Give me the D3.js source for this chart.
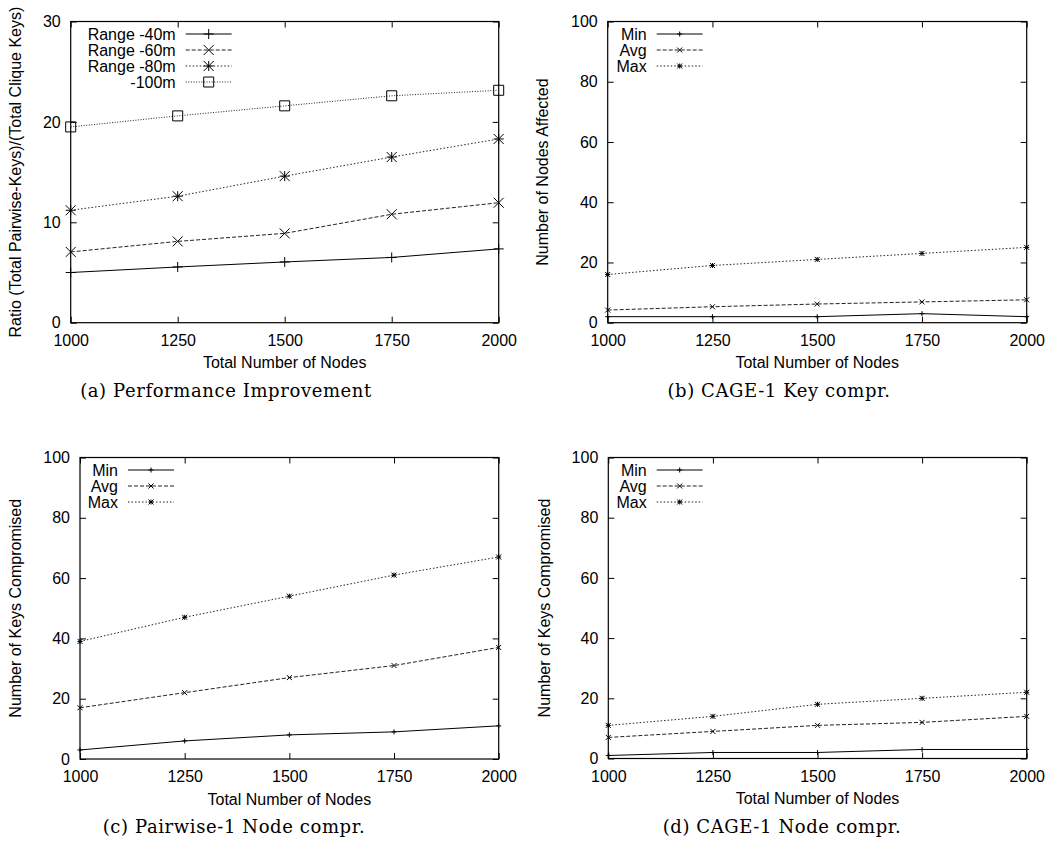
<!DOCTYPE html>
<html>
<head>
<meta charset="utf-8">
<script src="https://cdn.jsdelivr.net/npm/d3@7"></script>
<style>
  body { margin: 0; background: #fff; }
  svg { display: block; }
</style>
</head>
<body>
<div id="chart"></div>
<script>
// x values shared by every panel
const nodes = [1000, 1250, 1500, 1750, 2000];

// (a) ratio pairwise keys / clique keys
const rangeNames = ["Range -40m", "Range -60m", "Range -80m", "-100m"];
const range40 = [5.0, 5.55, 6.05, 6.5, 7.35];
const range60 = [7.05, 8.1, 8.9, 10.8, 11.95];
const range80 = [11.2, 12.6, 14.6, 16.5, 18.3];
const range100 = [19.5, 20.6, 21.6, 22.6, 23.15];

// (b)-(d) min / avg / max
const statNames = ["Min", "Avg", "Max"];
const cageKeyMin = [2, 2, 2, 3, 2];
const cageKeyAvg = [4.2, 5.3, 6.2, 6.9, 7.6];
const cageKeyMax = [16, 19, 21, 23, 25];

const pairNodeMin = [3, 6, 8, 9, 11];
const pairNodeAvg = [17, 22, 27, 31, 37];
const pairNodeMax = [39, 47, 54, 61, 67];

const cageNodeMin = [1, 2, 2, 3, 3];
const cageNodeAvg = [7, 9, 11, 12, 14];
const cageNodeMax = [11, 14, 18, 20, 22];

const ticksA = [0, 10, 20, 30];
const ticks100 = [0, 20, 40, 60, 80, 100];

const FONT = '"Liberation Sans", Arial, Helvetica, sans-serif';
const SERIF = '"DejaVu Serif", "Liberation Serif", serif';

const width = 1048, height = 845;

const svg = d3.select('#chart')
  .append('svg')
  .attr('width', width)
  .attr('height', height)
  .style('background', 'white');

// gnuplot-ish line types
const dashes = [null, "4,2", "1.5,2", "1,1.6"];
const shapes = ["plus", "cross", "star", "square"];

function drawMarker(g, shape, cx, cy, r) {
  let d = "";
  if (shape === "plus" || shape === "star") {
    d += `M${cx - r},${cy}H${cx + r}M${cx},${cy - r}V${cy + r}`;
  }
  if (shape === "cross" || shape === "star") {
    d += `M${cx - r},${cy - r}L${cx + r},${cy + r}M${cx - r},${cy + r}L${cx + r},${cy - r}`;
  }
  if (shape === "square") {
    d += `M${cx - r},${cy - r}H${cx + r}V${cy + r}H${cx - r}Z`;
  }
  g.append('path')
    .attr('d', d)
    .attr('fill', 'none')
    .attr('stroke', '#000')
    .attr('stroke-width', 1);
}

function drawPanel(p) {
  const x = d3.scaleLinear().domain([1000, 2000]).range([p.left, p.right]);
  const y = d3.scaleLinear().domain([0, p.yMax]).range([p.bottom, p.top]);
  const g = svg.append('g');

  // axes, ticks point inward and are mirrored on top / right
  g.append('g')
    .attr('transform', `translate(0,${p.bottom})`)
    .call(d3.axisBottom(x).tickValues(nodes).tickSizeInner(-6).tickSizeOuter(0)
      .tickPadding(12).tickFormat(d3.format('d')));
  g.append('g')
    .attr('transform', `translate(0,${p.top})`)
    .call(d3.axisTop(x).tickValues(nodes).tickSizeInner(-6).tickSizeOuter(0).tickFormat(''));
  g.append('g')
    .attr('transform', `translate(${p.left},0)`)
    .call(d3.axisLeft(y).tickValues(p.yTicks).tickSizeInner(-6).tickSizeOuter(0).tickPadding(10));
  g.append('g')
    .attr('transform', `translate(${p.right},0)`)
    .call(d3.axisRight(y).tickValues(p.yTicks).tickSizeInner(-6).tickSizeOuter(0).tickFormat(''));

  g.selectAll('.domain').remove();
  g.selectAll('.tick line').attr('stroke', '#000');
  g.selectAll('.tick text')
    .attr('font-family', FONT)
    .attr('font-size', 16)
    .attr('fill', '#000');

  g.append('rect')
    .attr('x', p.left)
    .attr('y', p.top)
    .attr('width', p.right - p.left)
    .attr('height', p.bottom - p.top)
    .attr('fill', 'none')
    .attr('stroke', '#000')
    .attr('stroke-width', 1.2);

  // axis titles
  g.append('text')
    .attr('x', (p.left + p.right) / 2)
    .attr('y', p.bottom + 45.5)
    .attr('text-anchor', 'middle')
    .attr('font-family', FONT)
    .attr('font-size', 16)
    .text('Total Number of Nodes');

  g.append('text')
    .attr('transform', `translate(${p.yLabelX},${(p.top + p.bottom) / 2}) rotate(-90)`)
    .attr('text-anchor', 'middle')
    .attr('font-family', FONT)
    .attr('font-size', 16)
    .text(p.yLabel);

  // lines and points
  const line = d3.line()
    .x((d, i) => x(nodes[i]))
    .y(d => y(d));

  p.series.forEach((s, k) => {
    g.append('path')
      .datum(s.values)
      .attr('d', line)
      .attr('fill', 'none')
      .attr('stroke', k === 0 ? '#000' : '#222')
      .attr('stroke-width', 1)
      .attr('stroke-dasharray', dashes[k]);

    s.values.forEach((v, i) => drawMarker(g, shapes[k], x(nodes[i]), y(v), p.markerR));

    // legend entry
    const ly = p.top + 12.5 + 16 * k;
    const tx = p.left + p.keyW;
    g.append('text')
      .attr('x', tx)
      .attr('y', ly)
      .attr('dy', '0.35em')
      .attr('text-anchor', 'end')
      .attr('font-family', FONT)
      .attr('font-size', 16)
      .text(s.name);
    g.append('line')
      .attr('x1', tx + 10)
      .attr('x2', tx + 56)
      .attr('y1', ly)
      .attr('y2', ly)
      .attr('stroke', k === 0 ? '#000' : '#222')
      .attr('stroke-width', 1)
      .attr('stroke-dasharray', dashes[k]);
    drawMarker(g, shapes[k], tx + 33, ly, p.markerR);
  });

  // sub-figure caption
  g.append('text')
    .attr('x', p.capX)
    .attr('y', p.bottom + 74)
    .attr('text-anchor', 'middle')
    .attr('font-family', SERIF)
    .attr('font-size', 18)
    .attr('letter-spacing', '0.6px')
    .text(p.caption);
}

drawPanel({
  left: 70.7, right: 498.7, top: 21.5, bottom: 322.7,
  yMax: 30, yTicks: ticksA, markerR: 5, keyW: 105,
  yLabel: 'Ratio (Total Pairwise-Keys)/(Total Clique Keys)', yLabelX: 20.5,
  caption: '(a) Performance Improvement', capX: 226,
  series: [range40, range60, range80, range100].map((v, i) => ({ name: rangeNames[i], values: v }))
});

drawPanel({
  left: 607.7, right: 1026.7, top: 21.5, bottom: 322.7,
  yMax: 100, yTicks: ticks100, markerR: 2.5, keyW: 39,
  yLabel: 'Number of Nodes Affected', yLabelX: 547.5,
  caption: '(b) CAGE-1 Key compr.', capX: 779,
  series: [cageKeyMin, cageKeyAvg, cageKeyMax].map((v, i) => ({ name: statNames[i], values: v }))
});

drawPanel({
  left: 80, right: 498.7, top: 457.5, bottom: 759,
  yMax: 100, yTicks: ticks100, markerR: 2.5, keyW: 38,
  yLabel: 'Number of Keys Compromised', yLabelX: 20.5,
  caption: '(c) Pairwise-1 Node compr.', capX: 234,
  series: [pairNodeMin, pairNodeAvg, pairNodeMax].map((v, i) => ({ name: statNames[i], values: v }))
});

drawPanel({
  left: 608.3, right: 1026.7, top: 457.5, bottom: 758.5,
  yMax: 100, yTicks: ticks100, markerR: 2.5, keyW: 38.4,
  yLabel: 'Number of Keys Compromised', yLabelX: 550,
  caption: '(d) CAGE-1 Node compr.', capX: 782,
  series: [cageNodeMin, cageNodeAvg, cageNodeMax].map((v, i) => ({ name: statNames[i], values: v }))
});
</script>
</body>
</html>
